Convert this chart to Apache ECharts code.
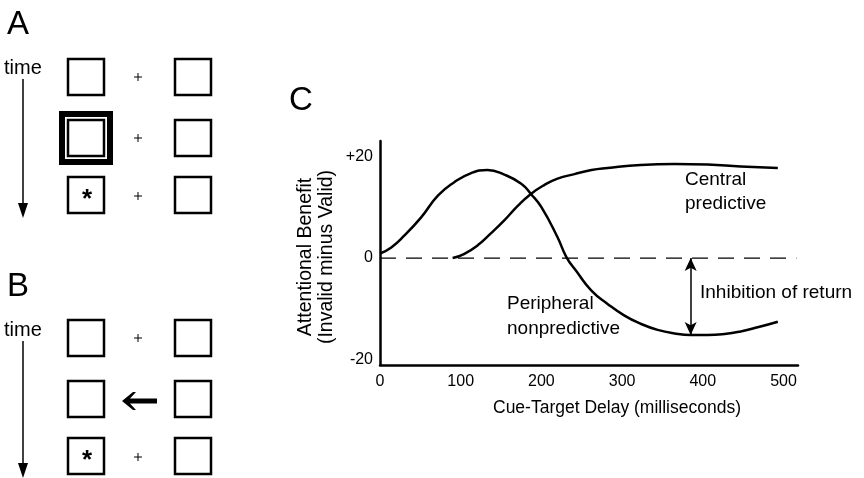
<!DOCTYPE html>
<html>
<head>
<meta charset="utf-8">
<script src="https://cdn.jsdelivr.net/npm/echarts@6/dist/echarts.min.js"></script>
<style>
  html, body { margin: 0; background: #fff; }
  #chart { width: 864px; height: 478px; }
</style>
</head>
<body>
<div id="chart"></div>
<script>
// panel C data (cue-target delay in ms, benefit)
const xTicks = [0, 100, 200, 300, 400, 500]
const yTicks = [-20, 0, 20]
const peripheral = [
  [0, 0.9], [14, 2.1], [30, 4.4], [51, 8.0], [72, 12.3], [92, 14.9], [113, 16.7],
  [133, 17.3], [154, 16.4], [175, 14.6], [187, 12.6], [200, 10.0], [220, 4.1],
  [231, 0.2], [243, -2.5], [262, -6.4], [282, -9.0], [303, -11.3], [323, -12.9],
  [344, -14.1], [365, -14.8], [385, -15.1], [406, -15.1], [427, -14.9],
  [447, -14.4], [468, -13.6], [493, -12.5]
]
const central = [
  [90, 0], [104, 0.8], [121, 2.5], [137, 4.8], [154, 7.4], [171, 10.3],
  [187, 12.6], [203, 14.3], [220, 15.6], [241, 16.5], [262, 17.3], [282, 17.7],
  [323, 18.3], [365, 18.5], [406, 18.4], [447, 18.0], [493, 17.7]
]
const zeroLine = [[0, 0], [516, 0]]
const inhibition = [[385, 0], [385, -15.1]]

const font = '"Liberation Sans", Arial, sans-serif'

// schematic panels A and B
function square (x, y, s, lw) {
  return { type: 'rect', shape: { x: x, y: y, width: s, height: s },
    style: { fill: 'none', stroke: '#000', lineWidth: lw } }
}
function txt (x, y, t, size, more) {
  return { type: 'text', x: x, y: y,
    style: Object.assign({ text: t, font: size + 'px ' + font, fill: '#000' }, more || {}) }
}
function plus (x, y) {
  return [
    { type: 'line', shape: { x1: x - 4, y1: y, x2: x + 4, y2: y }, style: { stroke: '#000', lineWidth: 1 } },
    { type: 'line', shape: { x1: x, y1: y - 4, x2: x, y2: y + 4 }, style: { stroke: '#000', lineWidth: 1 } }
  ]
}
function star (x, y) {
  return txt(x, y, '*', 'bold 26', { align: 'center', verticalAlign: 'middle' })
}
function timeArrow (y1, y2) {
  return [
    { type: 'line', shape: { x1: 23, y1: y1, x2: 23, y2: y2 - 12 }, style: { stroke: '#000', lineWidth: 1.5 } },
    { type: 'polygon', shape: { points: [[18, y2 - 15], [28, y2 - 15], [23, y2]] }, style: { fill: '#000' } }
  ]
}

let g = []
// A
g.push(txt(7, 8, 'A', 33))
g.push(txt(4, 68, 'time', 20, { verticalAlign: 'middle' }))
g = g.concat(timeArrow(79, 218))
g.push(square(68, 59, 36, 2.5), square(175, 59, 36, 2.5))
g = g.concat(plus(138, 77))
g.push({ type: 'rect', shape: { x: 62, y: 114, width: 48, height: 48 },
  style: { fill: 'none', stroke: '#000', lineWidth: 6 } })
g.push(square(68, 120, 36, 2.5), square(175, 120, 36, 2.5))
g = g.concat(plus(138, 138))
g.push(square(68, 177, 36, 2.5), square(175, 177, 36, 2.5))
g = g.concat(plus(138, 196))
g.push(star(87, 200))
// B
g.push(txt(7, 270, 'B', 33))
g.push(txt(4, 330, 'time', 20, { verticalAlign: 'middle' }))
g = g.concat(timeArrow(341, 478))
g.push(square(68, 320, 36, 2.5), square(175, 320, 36, 2.5))
g = g.concat(plus(138, 338))
g.push(square(68, 381, 36, 2.5), square(175, 381, 36, 2.5))
g.push({ type: 'polygon', shape: { points: [[122, 401], [133, 392], [136, 392], [130, 398.5], [157, 398.5], [157, 403.5], [130, 403.5], [136, 410], [133, 410]] },
  style: { fill: '#000' } })
g.push(square(68, 438, 36, 2.5), square(175, 438, 36, 2.5))
g = g.concat(plus(138, 457))
g.push(star(87, 461))
// C labels
g.push(txt(289, 84, 'C', 33))
g.push(txt(685, 168, 'Central\npredictive', 19, { lineHeight: 24 }))
g.push(txt(507, 291, 'Peripheral\nnonpredictive', 19, { lineHeight: 25 }))
g.push(txt(700, 293, 'Inhibition of return', 19, { verticalAlign: 'middle' }))
g.push(txt(617, 408, 'Cue-Target Delay (milliseconds)', 17.5, { align: 'center', verticalAlign: 'middle' }))
g.push(Object.assign(txt(316, 257, 'Attentional Benefit\n(Invalid minus Valid)', 19.5,
  { align: 'center', verticalAlign: 'middle', lineHeight: 21 }), { rotation: Math.PI / 2 }))

let myChart = echarts.init(document.getElementById('chart'))
let option = {
  animation: false,
  backgroundColor: '#fff',
  textStyle: { fontFamily: font },
  grid: { left: 380, top: 141, right: 66, bottom: 113 },
  graphic: g,
  xAxis: {
    type: 'value',
    min: 0,
    max: 518,
    splitLine: { show: false },
    axisTick: { show: false },
    axisLine: { show: true, onZero: false, lineStyle: { color: '#000', width: 2.5 } },
    axisLabel: { customValues: xTicks, color: '#000', fontSize: 16, margin: 9 }
  },
  yAxis: {
    type: 'value',
    min: -21,
    max: 23,
    splitLine: { show: false },
    axisTick: { show: false },
    axisLine: { show: true, lineStyle: { color: '#000', width: 2.5 } },
    axisLabel: {
      customValues: yTicks, color: '#000', fontSize: 16, margin: 7,
      formatter: function (v) { return v > 0 ? '+' + v : String(v) }
    }
  },
  series: [
    {
      name: 'zero',
      type: 'line',
      data: zeroLine,
      symbol: 'none',
      lineStyle: { color: '#000', width: 1.2, type: [16, 10] },
      markLine: {
        silent: true,
        symbol: ['arrow', 'arrow'],
        symbolSize: [9, 13],
        label: { show: false },
        lineStyle: { color: '#000', width: 1.5, type: 'solid' },
        data: [[{ coord: inhibition[0] }, { coord: inhibition[1] }]]
      }
    },
    {
      name: 'Peripheral nonpredictive',
      type: 'line',
      data: peripheral,
      symbol: 'none',
      smooth: 0.5,
      lineStyle: { color: '#000', width: 2.5 }
    },
    {
      name: 'Central predictive',
      type: 'line',
      data: central,
      symbol: 'none',
      smooth: 0.5,
      lineStyle: { color: '#000', width: 2.5 }
    }
  ]
}
myChart.setOption(option, true)
</script>
</body>
</html>
